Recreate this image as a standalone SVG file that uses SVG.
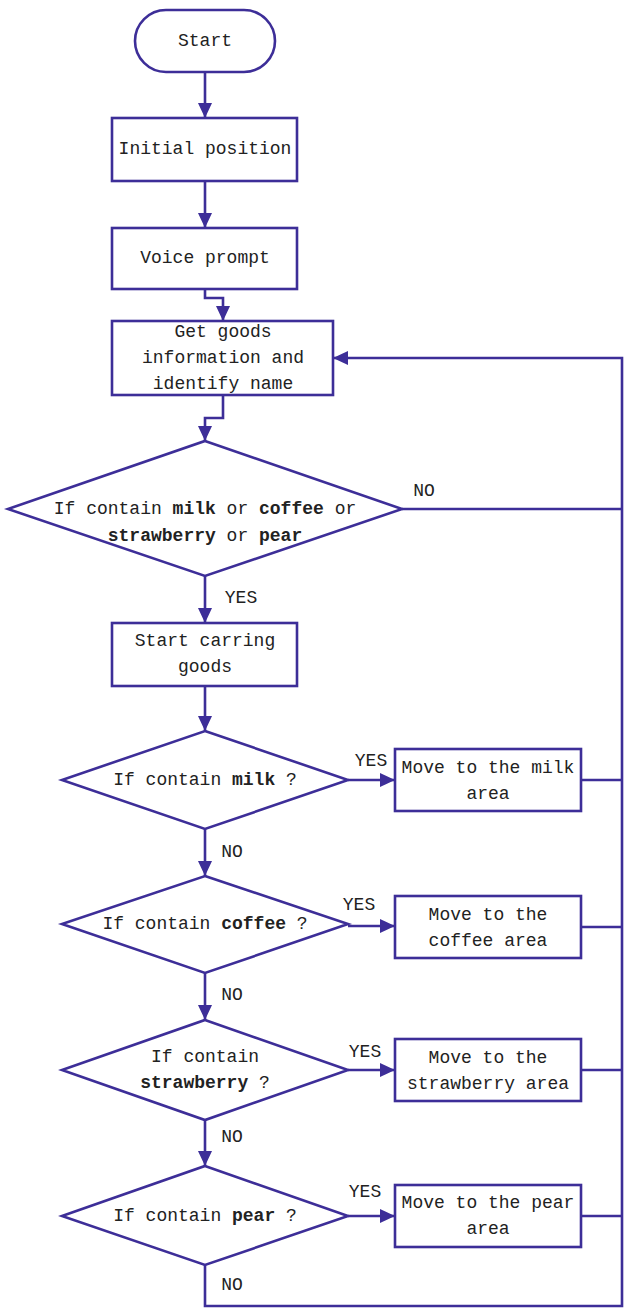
<svg xmlns="http://www.w3.org/2000/svg" width="625" height="1309" viewBox="0 0 625 1309">
<style>
.s{fill:#fff;stroke:#3d2e98;stroke-width:2.6}
.c{fill:none;stroke:#3d2e98;stroke-width:2.6}
text{font-family:"Liberation Mono","DejaVu Sans Mono",monospace;font-size:18px;fill:#222;text-anchor:middle;dominant-baseline:central}
.b{font-weight:bold}
</style>
<defs>
<marker id="a" markerUnits="userSpaceOnUse" markerWidth="16" markerHeight="16" viewBox="0 0 16 16" refX="15" refY="8" orient="auto">
<path d="M0,1 L15,8 L0,15 Z" fill="#3d2e98"/>
</marker>
</defs>
<rect width="625" height="1309" fill="#fff"/>
<g id="connectors">
<path class="c" d="M205,72 V118" marker-end="url(#a)"/>
<path class="c" d="M205,181 V228" marker-end="url(#a)"/>
<path class="c" d="M205,289 V298 H223 V321" marker-end="url(#a)"/>
<path class="c" d="M223,395 V418 H205 V441" marker-end="url(#a)"/>
<path class="c" d="M402,509 H622"/>
<path class="c" d="M205,576 V623" marker-end="url(#a)"/>
<path class="c" d="M205,686 V731" marker-end="url(#a)"/>
<path class="c" d="M348,780 H395" marker-end="url(#a)"/>
<path class="c" d="M205,829 V876" marker-end="url(#a)"/>
<path class="c" d="M348,926 H395" marker-end="url(#a)"/>
<path class="c" d="M205,973 V1020" marker-end="url(#a)"/>
<path class="c" d="M348,1070 H395" marker-end="url(#a)"/>
<path class="c" d="M205,1120 V1166" marker-end="url(#a)"/>
<path class="c" d="M348,1216 H395" marker-end="url(#a)"/>
<path class="c" d="M581,780 H622"/>
<path class="c" d="M581,927 H622"/>
<path class="c" d="M581,1070 H622"/>
<path class="c" d="M581,1216 H622"/>
<path class="c" d="M205,1265 V1306 H622 V358 H333" marker-end="url(#a)"/>
<text x="424" y="491">NO</text>
<text x="241" y="598">YES</text>
<text x="371" y="761">YES</text>
<text x="232" y="852">NO</text>
<text x="359" y="905">YES</text>
<text x="232" y="995">NO</text>
<text x="365" y="1052">YES</text>
<text x="232" y="1137">NO</text>
<text x="365" y="1192">YES</text>
<text x="232" y="1285">NO</text>
</g>
<g id="start">
<rect class="s" x="135" y="10" width="140" height="62" rx="31"/>
<text x="205" y="41">Start</text>
</g>
<g id="initial">
<rect class="s" x="112" y="118" width="185" height="63"/>
<text x="205" y="149">Initial position</text>
</g>
<g id="voice">
<rect class="s" x="112" y="228" width="185" height="61"/>
<text x="205" y="258">Voice prompt</text>
</g>
<g id="getgoods">
<rect class="s" x="112" y="321" width="221" height="74"/>
<text x="223" y="332">Get goods</text>
<text x="223" y="358">information and</text>
<text x="223" y="384">identify name</text>
</g>
<g id="d1">
<polygon class="s" points="205,441 402,509 205,576 8,509"/>
<text x="205" y="509">If contain <tspan class="b">milk</tspan> or <tspan class="b">coffee</tspan> or</text>
<text x="205" y="536"><tspan class="b">strawberry</tspan> or <tspan class="b">pear</tspan></text>
</g>
<g id="carry">
<rect class="s" x="112" y="623" width="185" height="63"/>
<text x="205" y="641">Start carring</text>
<text x="205" y="667">goods</text>
</g>
<g id="d2">
<polygon class="s" points="205,731 348,780 205,829 62,780"/>
<text x="205" y="780">If contain <tspan class="b">milk</tspan> ?</text>
</g>
<g id="milk">
<rect class="s" x="395" y="749" width="186" height="62"/>
<text x="488" y="768">Move to the milk</text>
<text x="488" y="794">area</text>
</g>
<g id="d3">
<polygon class="s" points="205,876 348,924 205,973 62,924"/>
<text x="205" y="924">If contain <tspan class="b">coffee</tspan> ?</text>
</g>
<g id="coffee">
<rect class="s" x="395" y="896" width="186" height="62"/>
<text x="488" y="915">Move to the</text>
<text x="488" y="941">coffee area</text>
</g>
<g id="d4">
<polygon class="s" points="205,1020 348,1070 205,1120 62,1070"/>
<text x="205" y="1057">If contain</text>
<text x="205" y="1083"><tspan class="b">strawberry</tspan> ?</text>
</g>
<g id="strawberry">
<rect class="s" x="395" y="1039" width="186" height="62"/>
<text x="488" y="1058">Move to the</text>
<text x="488" y="1084">strawberry area</text>
</g>
<g id="d5">
<polygon class="s" points="205,1166 348,1216 205,1265 62,1216"/>
<text x="205" y="1216">If contain <tspan class="b">pear</tspan> ?</text>
</g>
<g id="pear">
<rect class="s" x="395" y="1185" width="186" height="62"/>
<text x="488" y="1203">Move to the pear</text>
<text x="488" y="1229">area</text>
</g>
</svg>
